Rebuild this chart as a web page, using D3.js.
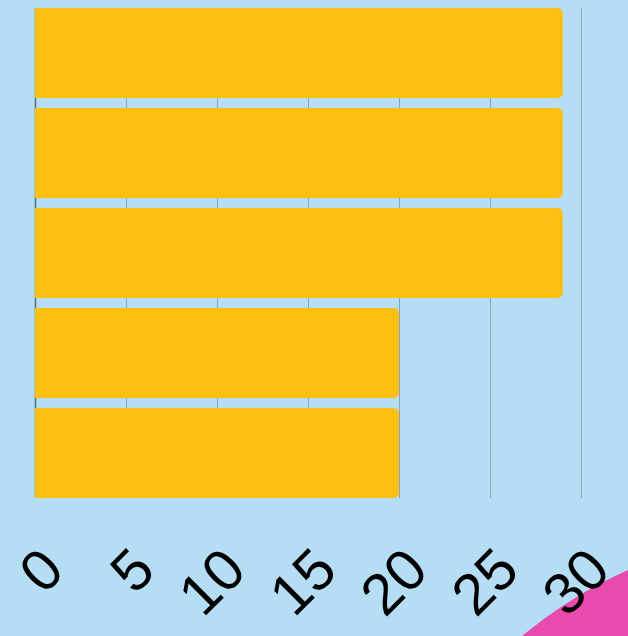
<!DOCTYPE html>
<html>
<head>
<meta charset="utf-8">
<script src="https://cdn.jsdelivr.net/npm/d3@7"></script>
<style>
  html, body { margin: 0; padding: 0; background: #b5def5; overflow: hidden; }
  .tick-label { font-family: "Liberation Sans", Arial, sans-serif; font-size: 58px; fill: #000; }
</style>
</head>
<body>
<div id="chart"></div>
<script>
// ── Data ──────────────────────────────────────────────
const categories = ["A", "B", "C", "D", "E"];
const values = [29, 29, 29, 20, 20];
const xTicks = [0, 5, 10, 15, 20, 25, 30];

// ── Layout ────────────────────────────────────────────
const width = 628, height = 636;
const margin = { top: 8, right: 47, bottom: 138, left: 35 };
const innerWidth = width - margin.left - margin.right;
const innerHeight = height - margin.top - margin.bottom;
const barColor = "#fdbf12";
const gridColor = "#8fa4b5";
const radius = 6;

const svg = d3.select("#chart")
    .append("svg")
    .attr("width", width)
    .attr("height", height);

// background + decorative circle
svg.append("rect")
    .attr("width", width)
    .attr("height", height)
    .attr("fill", "#b5def5");

svg.append("circle")
    .attr("cx", 815)
    .attr("cy", 988)
    .attr("r", 458)
    .attr("fill", "#e84aae");

const inner = svg.append("g")
    .attr("transform", `translate(${margin.left},${margin.top})`);

// Scales
const xScale = d3.scaleLinear()
    .domain([0, 30])
    .range([0, innerWidth]);

const yScale = d3.scaleBand()
    .domain(categories)
    .range([0, innerHeight])
    .paddingInner(0.1)
    .paddingOuter(0);

// Gridlines
inner.selectAll(".grid")
    .data(xTicks)
    .join("line")
    .attr("class", "grid")
    .attr("x1", d => xScale(d) + 0.5)
    .attr("x2", d => xScale(d) + 0.5)
    .attr("y1", 0)
    .attr("y2", innerHeight)
    .attr("stroke", gridColor)
    .attr("stroke-width", 1);

// Left axis line
inner.append("line")
    .attr("x1", 0.5)
    .attr("x2", 0.5)
    .attr("y1", 0)
    .attr("y2", innerHeight)
    .attr("stroke", "#566d84")
    .attr("stroke-width", 1.5);

// Bars: square on the left, rounded on the right
const barPath = (x0, y0, w, h, r) => {
    const rr = Math.min(r, w / 2, h / 2);
    return `M${x0},${y0}` +
        `H${x0 + w - rr}` +
        `Q${x0 + w},${y0} ${x0 + w},${y0 + rr}` +
        `V${y0 + h - rr}` +
        `Q${x0 + w},${y0 + h} ${x0 + w - rr},${y0 + h}` +
        `H${x0}Z`;
};

inner.selectAll(".bar")
    .data(values)
    .join("path")
    .attr("class", "bar")
    .attr("d", (d, i) => barPath(xScale(0), yScale(categories[i]), xScale(d) - xScale(0), yScale.bandwidth(), radius))
    .attr("fill", barColor);

// Bottom axis labels (no axis line), rotated -45
const bottomAxis = d3.axisBottom(xScale)
    .tickValues(xTicks)
    .tickSize(0)
    .tickPadding(0);

const axisG = inner.append("g")
    .attr("transform", `translate(0,${innerHeight})`)
    .call(bottomAxis);

axisG.select(".domain").remove();
axisG.selectAll(".tick text")
    .attr("class", "tick-label")
    .attr("font-size", null)
    .attr("font-family", null)
    .attr("text-anchor", "end")
    .attr("dy", null)
    .attr("y", 0)
    .attr("transform", "translate(31,75) rotate(-45)");
</script>
</body>
</html>
